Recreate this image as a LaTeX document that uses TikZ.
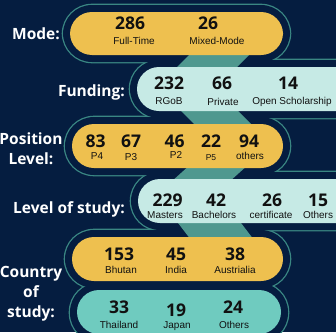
\documentclass[tikz,border=0pt]{standalone}
\usepackage{fontspec}
\setmainfont{Liberation Sans}
\newfontfamily\numfont{Open Sans}
\definecolor{navy}{HTML}{051D40}
\definecolor{gold}{HTML}{EEC04F}
\definecolor{mint}{HTML}{C6EAE5}
\definecolor{band}{HTML}{4F988F}
\definecolor{aqua}{HTML}{6FCBBF}
\definecolor{rimline}{HTML}{3A8783}
\definecolor{ink}{HTML}{111111}
\begin{document}
\begin{tikzpicture}[x=1pt, y=-1pt,
    pill/.style={rounded corners=22pt},
    rim/.style={rounded corners=29pt},
    num/.style={anchor=base, text=ink, font=\numfont\bfseries\fontsize{17.5}{18}\selectfont},
    sub/.style={anchor=base, text=ink, font=\fontsize{10}{12}\selectfont},
    side/.style={text=white, font=\numfont\bfseries\fontsize{15.5}{20}\selectfont}]
        \tikzstyle{every node}=[inner sep=0pt]

        \useasboundingbox (0,0) rectangle (336,332);
        \clip (0,0) rectangle (336,332);
        \fill[navy] (0,0) rectangle (336,332);

        % outline round the pills
        \draw[rim, rimline, line width=2.6pt] (63,5) rectangle (290,62);
        \draw[rim, rimline, line width=2.6pt] (130,60) rectangle (380,118);
        \draw[rim, rimline, line width=2.6pt] (65,117) rectangle (290,175);
        \draw[rim, rimline, line width=2.6pt] (131,172) rectangle (380,230);
        \draw[rim, rimline, line width=2.6pt] (65,230) rectangle (290,288);
        \draw[rim, rimline, line width=2.6pt] (70,283) rectangle (288,342);
        \fill[rim, navy] (63,5) rectangle (290,62);
        \fill[rim, navy] (130,60) rectangle (380,118);
        \fill[rim, navy] (65,117) rectangle (290,175);
        \fill[rim, navy] (131,172) rectangle (380,230);
        \fill[rim, navy] (65,230) rectangle (290,288);
        \fill[rim, navy] (70,283) rectangle (288,342);

        % zigzag band
        \fill[band] (194,50) -- (254,50) -- (234,70) -- (174,70) -- cycle;
        \fill[band] (176,106) -- (233,106) -- (254,127) -- (197,127) -- cycle;
        \fill[band] (191,164) -- (249,164) -- (229,182) -- (171,182) -- cycle;
        \fill[band] (175,219) -- (238,219) -- (254,240) -- (191,240) -- cycle;

        % pills
        \fill[pill, gold] (70,12) rectangle (283,55);
        \fill[pill, mint] (137,67) rectangle (380,111);
        \fill[pill, gold] (72,124) rectangle (283,168);
        \fill[pill, mint] (138,179) rectangle (380,223);
        \fill[pill, gold] (72,237) rectangle (283,281);
        \fill[pill, aqua] (77,290) rectangle (281,334);

        \node[side, anchor=base east] (mode) at (60,39) {Mode:};
        \node[side, anchor=base east] (fund) at (125,96) {Funding:};
        \node[side, align=center] (pos) at (31,149) {Position\\Level:};
        \node[side, anchor=base east] (lvl) at (125,213) {Level of study:};
        \node[side, align=center] (ctry) at (31,293.5) {Country\\of\\study:};

        \node[num] (n1) at (130,29.5) {286};
        \node[sub] (s1) at (134,44) {Full-Time};
        \node[num] (n2) at (208,29.5) {26};
        \node[sub] (s2) at (217,44) {Mixed-Mode};

        \node[num] (n3) at (169,89) {232};
        \node[sub] (s3) at (169,104) {RGoB};
        \node[num] (n4) at (222,89) {66};
        \node[sub] (s4) at (223,105) {Private};
        \node[num] (n5) at (288,89) {14};
        \node[sub] (s5) at (292,104) {Open Scholarship};

        \node[num] (n6) at (95.5,147) {83};
        \node[sub] (s6) at (97,159) {P4};
        \node[num] (n7) at (131,147) {67};
        \node[sub] (s7) at (131,160) {P3};
        \node[num] (n8) at (174.5,147) {46};
        \node[sub] (s8) at (176,158) {P2};
        \node[num] (n9) at (211,147) {22};
        \node[sub, font=\fontsize{8.5}{10}\selectfont] (s9) at (211,160) {P5};
        \node[num] (n10) at (249,147) {94};
        \node[sub] (s10) at (250,159) {others};

        \node[num] (n11) at (167.5,206) {229};
        \node[sub] (s11) at (165,218) {Masters};
        \node[num] (n12) at (216,206) {42};
        \node[sub] (s12) at (214,218) {Bachelors};
        \node[num] (n13) at (272,206) {26};
        \node[sub] (s13) at (271,218) {certificate};
        \node[num] (n14) at (318,206) {15};
        \node[sub] (s14) at (318,218) {Others};

        \node[num] (n15) at (119,260) {153};
        \node[sub] (s15) at (121,273) {Bhutan};
        \node[num] (n16) at (176,260) {45};
        \node[sub] (s16) at (176,273) {India};
        \node[num] (n17) at (235,260) {38};
        \node[sub] (s17) at (235,273) {Austrialia};

        \node[num] (n18) at (119,313) {33};
        \node[sub] (s18) at (119,328) {Thailand};
        \node[num] (n19) at (176,316) {19};
        \node[sub] (s19) at (177,328) {Japan};
        \node[num] (n20) at (233,313) {24};
        \node[sub] (s20) at (234,328) {Others};

        \end{tikzpicture}
\end{document}
